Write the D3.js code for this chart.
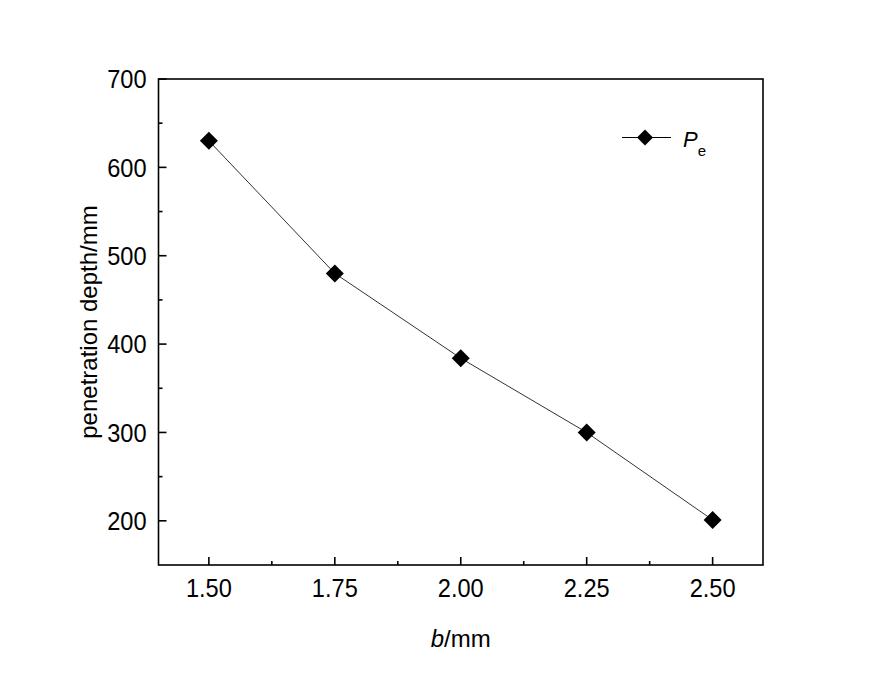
<!DOCTYPE html>
<html>
<head>
<meta charset="utf-8">
<script src="https://cdn.jsdelivr.net/npm/d3@7"></script>
<style>
  body { margin: 0; background: #fff; }
  text { font-family: "Liberation Sans", Arial, sans-serif; fill: #000; }
</style>
</head>
<body>
<script>
var bValues = [1.50, 1.75, 2.00, 2.25, 2.50];
var depthValues = [630, 480, 384, 300, 201];
var xTicks = [1.50, 1.75, 2.00, 2.25, 2.50];
var xMinor = [1.625, 1.875, 2.125, 2.375];
var yTicks = [200, 300, 400, 500, 600, 700];
var yMinor = [250, 350, 450, 550, 650];

var W = 885, H = 677;
var margin = {top: 79, right: 122, bottom: 112, left: 158.5};
var width = W - margin.left - margin.right,
    height = H - margin.top - margin.bottom;

var svg = d3.select("body").append("svg")
  .attr("width", W)
  .attr("height", H);
var g = svg.append("g")
  .attr("transform", "translate(" + margin.left + "," + margin.top + ")");

var xscale = d3.scaleLinear().domain([1.4, 2.6]).range([0, width]);
var yscale = d3.scaleLinear().domain([150, 700]).range([height, 0]);

// frame
g.append("rect")
  .attr("width", width).attr("height", height)
  .attr("fill", "none").attr("stroke", "#000").attr("stroke-width", 1.6);

// x axis (ticks inward)
var xAxis = g.append("g").attr("transform", "translate(0," + height + ")");
xAxis.selectAll(".maj").data(xTicks).enter().append("line")
  .attr("x1", function(d) { return xscale(d); })
  .attr("x2", function(d) { return xscale(d); })
  .attr("y1", 0).attr("y2", -8)
  .attr("stroke", "#000").attr("stroke-width", 1.6);
xAxis.selectAll(".min").data(xMinor).enter().append("line")
  .attr("x1", function(d) { return xscale(d); })
  .attr("x2", function(d) { return xscale(d); })
  .attr("y1", 0).attr("y2", -4)
  .attr("stroke", "#000").attr("stroke-width", 1.6);
// labels a bit condensed like the original narrow face
xAxis.selectAll(".lbl").data(xTicks).enter().append("text")
  .attr("transform", function(d) { return "translate(" + xscale(d) + ",32) scale(0.89,1)"; })
  .attr("text-anchor", "middle")
  .style("font-size", "26.5px")
  .text(function(d) { return d3.format(".2f")(d); });

// y axis
var yAxis = g.append("g");
yAxis.selectAll(".maj").data(yTicks).enter().append("line")
  .attr("y1", function(d) { return yscale(d); })
  .attr("y2", function(d) { return yscale(d); })
  .attr("x1", 0).attr("x2", 8)
  .attr("stroke", "#000").attr("stroke-width", 1.6);
yAxis.selectAll(".min").data(yMinor).enter().append("line")
  .attr("y1", function(d) { return yscale(d); })
  .attr("y2", function(d) { return yscale(d); })
  .attr("x1", 0).attr("x2", 4)
  .attr("stroke", "#000").attr("stroke-width", 1.6);
yAxis.selectAll(".lbl").data(yTicks).enter().append("text")
  .attr("transform", function(d) { return "translate(-12," + yscale(d) + ") scale(0.89,1)"; })
  .attr("dy", "0.35em")
  .attr("text-anchor", "end")
  .style("font-size", "26.5px")
  .text(function(d) { return d; });

// axis titles
g.append("text")
  .attr("transform", "translate(-62," + height / 2 + ") rotate(-90)")
  .attr("text-anchor", "middle")
  .style("font-size", "24px")
  .text("penetration depth/mm");

var xt = g.append("text")
  .attr("x", width / 2).attr("y", height + 82)
  .attr("text-anchor", "middle")
  .style("font-size", "24px");
xt.append("tspan").style("font-style", "italic").text("b");
xt.append("tspan").text("/mm");

// line + markers
var line = d3.line()
  .x(function(d, i) { return xscale(bValues[i]); })
  .y(function(d) { return yscale(d); });
g.append("path")
  .datum(depthValues)
  .attr("d", line)
  .attr("fill", "none")
  .attr("stroke", "#333")
  .attr("stroke-width", 1);

var diamond = d3.symbol().type(d3.symbolSquare).size(162);
g.selectAll(".pt").data(depthValues).enter().append("path")
  .attr("d", diamond)
  .attr("transform", function(d, i) {
    return "translate(" + xscale(bValues[i]) + "," + yscale(d) + ") rotate(45)";
  })
  .attr("fill", "#000");

// legend
var lg = svg.append("g").attr("transform", "translate(622,137.5)");
lg.append("line").attr("x1", 0).attr("x2", 49).attr("y1", 0).attr("y2", 0)
  .attr("stroke", "#000").attr("stroke-width", 1);
lg.append("path")
  .attr("d", d3.symbol().type(d3.symbolSquare).size(128))
  .attr("transform", "translate(23,0) rotate(45)")
  .attr("fill", "#000");
var lt = lg.append("text").attr("x", 61).attr("y", 9).style("font-size", "22px");
lt.append("tspan").style("font-style", "italic").text("P");
lt.append("tspan").attr("dy", 9).style("font-size", "15px").text("e");
</script>
</body>
</html>
